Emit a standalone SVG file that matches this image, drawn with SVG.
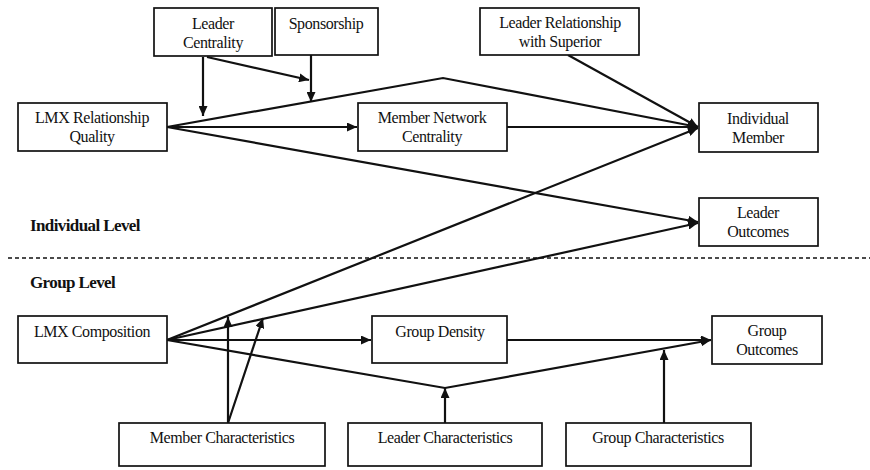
<svg xmlns="http://www.w3.org/2000/svg" width="870" height="470" viewBox="0 0 870 470">
<defs>
<style>
.box{fill:#fff;stroke:#111;stroke-width:1.7}
.t{font-family:"Liberation Serif","Times New Roman",serif;font-size:16px;letter-spacing:-0.4px;fill:#111;text-anchor:middle}
.lvl{font-family:"Liberation Serif","Times New Roman",serif;font-size:17px;font-weight:bold;letter-spacing:-0.6px;fill:#111}
.c{fill:none;stroke:#111;stroke-width:2.2}
</style>
<marker id="ah" markerUnits="userSpaceOnUse" markerWidth="11" markerHeight="9" refX="10" refY="4.5" orient="auto">
<path d="M0,0 L10,4.5 L0,9 z" fill="#111"/>
</marker>
</defs>
<rect width="870" height="470" fill="#fff"/>
<line x1="8" y1="258" x2="870" y2="258" stroke="#111" stroke-width="1.6" stroke-dasharray="4,3"/>
<text class="lvl" x="30" y="231">Individual Level</text>
<text class="lvl" x="30" y="288">Group Level</text>
<g id="connectors">
<line class="c" x1="167" y1="127" x2="357" y2="127" marker-end="url(#ah)"/>
<polyline class="c" points="167,127 443,78 698,127" marker-end="url(#ah)"/>
<line class="c" x1="167" y1="127" x2="698" y2="222" marker-end="url(#ah)"/>
<line class="c" x1="507" y1="127" x2="698" y2="127" marker-end="url(#ah)"/>
<line class="c" x1="568" y1="55" x2="698" y2="127" marker-end="url(#ah)"/>
<line class="c" x1="203" y1="57" x2="203" y2="116" marker-end="url(#ah)"/>
<line class="c" x1="207" y1="57" x2="309" y2="80" marker-end="url(#ah)"/>
<line class="c" x1="311" y1="55" x2="311" y2="102" marker-end="url(#ah)"/>
<line class="c" x1="167" y1="340" x2="371" y2="340" marker-end="url(#ah)"/>
<line class="c" x1="167" y1="340" x2="698" y2="128" marker-end="url(#ah)"/>
<line class="c" x1="167" y1="340" x2="698" y2="223" marker-end="url(#ah)"/>
<polyline class="c" points="167,340 445,388 711,340" marker-end="url(#ah)"/>
<line class="c" x1="507" y1="340" x2="711" y2="340" marker-end="url(#ah)"/>
<line class="c" x1="228" y1="423" x2="228" y2="317" marker-end="url(#ah)"/>
<line class="c" x1="228" y1="423" x2="263" y2="318" marker-end="url(#ah)"/>
<line class="c" x1="445" y1="423" x2="445" y2="388" marker-end="url(#ah)"/>
<line class="c" x1="664" y1="423" x2="664" y2="350" marker-end="url(#ah)"/>
</g>
<g id="leader-centrality"><rect class="box" x="154" y="8" width="118" height="48"/><text class="t" x="213" y="29">Leader</text><text class="t" x="213" y="48">Centrality</text></g>
<g id="sponsorship"><rect class="box" x="275" y="8" width="103" height="47"/><text class="t" x="326" y="29">Sponsorship</text></g>
<g id="leader-relationship"><rect class="box" x="480" y="8" width="159" height="47"/><text class="t" x="560" y="28">Leader Relationship</text><text class="t" x="560" y="47">with Superior</text></g>
<g id="lmx-quality"><rect class="box" x="18" y="103" width="149" height="48"/><text class="t" x="92" y="123">LMX Relationship</text><text class="t" x="92" y="142">Quality</text></g>
<g id="member-network"><rect class="box" x="358" y="103" width="149" height="48"/><text class="t" x="432" y="123">Member Network</text><text class="t" x="432" y="142">Centrality</text></g>
<g id="individual-member"><rect class="box" x="699" y="103" width="119" height="49"/><text class="t" x="758" y="124">Individual</text><text class="t" x="758" y="143">Member</text></g>
<g id="leader-outcomes"><rect class="box" x="699" y="198" width="119" height="48"/><text class="t" x="758" y="218">Leader</text><text class="t" x="758" y="237">Outcomes</text></g>
<g id="lmx-composition"><rect class="box" x="18" y="316" width="149" height="47"/><text class="t" x="92" y="337">LMX Composition</text></g>
<g id="group-density"><rect class="box" x="372" y="316" width="135" height="47"/><text class="t" x="440" y="337">Group Density</text></g>
<g id="group-outcomes"><rect class="box" x="712" y="316" width="110" height="48"/><text class="t" x="767" y="336">Group</text><text class="t" x="767" y="355">Outcomes</text></g>
<g id="member-characteristics"><rect class="box" x="119" y="423" width="206" height="43"/><text class="t" x="222" y="443">Member Characteristics</text></g>
<g id="leader-characteristics"><rect class="box" x="348" y="423" width="194" height="43"/><text class="t" x="445" y="443">Leader Characteristics</text></g>
<g id="group-characteristics"><rect class="box" x="566" y="423" width="185" height="43"/><text class="t" x="658" y="443">Group Characteristics</text></g>
</svg>
